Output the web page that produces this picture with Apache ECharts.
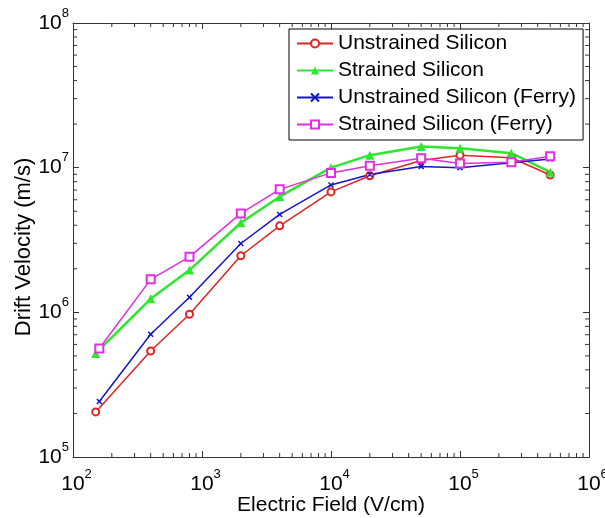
<!DOCTYPE html>
<html><head><meta charset="utf-8">
<script src="https://cdn.jsdelivr.net/npm/echarts@6/dist/echarts.min.js"></script>
<style>html,body{margin:0;padding:0;background:#fff}#c{width:605px;height:518px}</style>
</head><body><div id="c"></div>
<script>
const seriesNames = ['Unstrained Silicon', 'Strained Silicon', 'Unstrained Silicon (Ferry)', 'Strained Silicon (Ferry)'];
const fieldA = [150, 400, 800, 2000, 4000, 1e4, 2e4, 5e4, 1e5, 2.5e5, 5e5];
const fieldFerry = [160, 400, 800, 2000, 4000, 1e4, 2e4, 5e4, 1e5, 2.5e5, 5e5];
const unstrained = [2.05e5, 5.4e5, 9.7e5, 2.46e6, 3.96e6, 6.8e6, 8.8e6, 1.12e7, 1.22e7, 1.17e7, 8.9e6];
const strained = [5.2e5, 1.24e6, 1.96e6, 4.16e6, 6.3e6, 1.0e7, 1.22e7, 1.4e7, 1.36e7, 1.26e7, 9.3e6];
const unstrainedFerry = [2.42e5, 7.05e5, 1.27e6, 2.99e6, 4.75e6, 7.6e6, 8.97e6, 1.02e7, 1.0e7, 1.08e7, 1.15e7];
const strainedFerry = [5.62e5, 1.69e6, 2.42e6, 4.83e6, 7.08e6, 9.2e6, 1.03e7, 1.16e7, 1.07e7, 1.09e7, 1.2e7];
const xMin = 100, xMax = 1e6, yMin = 1e5, yMax = 1e8;
const xTitle = 'Electric Field (V/cm)';
const yTitle = 'Drift Velocity (m/s)';

const FONT = '"Liberation Sans", Arial, Helvetica, sans-serif';
const AX = '#333';

function minorList(lo, hi) {
  const out = [];
  for (let d = lo; d < hi; d *= 10) for (let m = 2; m <= 9; m++) out.push(m * d);
  return out;
}
const xMinor = minorList(xMin, xMax);
const yMinor = minorList(yMin, yMax);

function expLabel(v) {
  const e = Math.round(Math.log10(v));
  return '{b|10}{s|' + e + '}';
}
function richFor(padLeft) {
  return {
    b: {fontSize: 21, fontFamily: FONT, color: '#000', padding: [0, 0, 0, padLeft]},
    s: {fontSize: 13, fontFamily: FONT, color: '#000', padding: [0, 0, 20, 0]}
  };
}

function pairs(xs, ys) { return xs.map((x, i) => [x, ys[i]]); }

const chart = echarts.init(document.getElementById('c'), null, {renderer: 'canvas'});

const baseX = {
  type: 'log', logBase: 10, min: xMin, max: xMax, splitNumber: 4,
  axisLine: {show: true, lineStyle: {color: AX, width: 1}},
  axisTick: {show: true, inside: true, length: 6, lineStyle: {color: AX}},
  splitLine: {show: false}, minorTick: {show: false}
};
const baseY = {
  type: 'log', logBase: 10, min: yMin, max: yMax, splitNumber: 3,
  axisLine: {show: true, lineStyle: {color: AX, width: 1}},
  axisTick: {show: true, inside: true, length: 6, lineStyle: {color: AX}},
  splitLine: {show: false}, minorTick: {show: false}
};

const tickStyle = {stroke: AX, lineWidth: 1};

chart.setOption({
  animation: false,
  backgroundColor: '#fff',
  textStyle: {fontFamily: FONT},
  grid: {left: 73, right: 16, top: 23, bottom: 61, containLabel: false, outerBoundsMode: 'none'},
  legend: {
    data: seriesNames,
    orient: 'vertical', left: 289, top: 29,
    padding: [4, 7, 5, 7], itemGap: 6, itemWidth: 36, itemHeight: 10,
    backgroundColor: '#fff', borderColor: '#000', borderWidth: 1, borderRadius: 0,
    textStyle: {fontSize: 21, fontFamily: FONT, color: '#000', lineHeight: 21, padding: [0, 0, 0, 0]},
    selectedMode: false
  },
  xAxis: [
    Object.assign({}, baseX, {
      position: 'bottom',
      axisLabel: {show: true, margin: 11, formatter: expLabel, rich: richFor(7), showMinLabel: true, showMaxLabel: true},
      name: xTitle, nameLocation: 'middle', nameGap: 38, nameMoveOverlap: false,
      nameTextStyle: {fontSize: 21, fontFamily: FONT, color: '#000'}
    }),
    Object.assign({}, baseX, {position: 'top', axisLabel: {show: false}})
  ],
  yAxis: [
    Object.assign({}, baseY, {
      position: 'left',
      axisLabel: {show: true, margin: 4, formatter: expLabel, rich: richFor(0), showMinLabel: true, showMaxLabel: true},
      name: yTitle, nameLocation: 'middle', nameGap: 38, nameRotate: 90, nameMoveOverlap: false,
      nameTextStyle: {fontSize: 22, fontFamily: FONT, color: '#000', padding: [0, 14, 0, 0]}
    }),
    Object.assign({}, baseY, {position: 'right', axisLabel: {show: false}})
  ],
  series: [
    {
      name: seriesNames[0], type: 'line', data: pairs(fieldA, unstrained),
      symbol: 'emptyCircle', symbolSize: 7,
      lineStyle: {color: '#e02424', width: 1.5},
      itemStyle: {color: '#e02424', borderColor: '#e02424', borderWidth: 1.2}
    },
    {
      name: seriesNames[1], type: 'line', data: pairs(fieldA, strained),
      symbol: 'triangle', symbolSize: 9,
      lineStyle: {color: '#2ee62e', width: 2.5},
      itemStyle: {color: '#2ee62e'}
    },
    {
      name: seriesNames[2], type: 'line', data: pairs(fieldFerry, unstrainedFerry),
      symbol: 'path://M0,0L10,10M10,0L0,10', symbolSize: 5,
      lineStyle: {color: '#1414c8', width: 1.5},
      itemStyle: {color: '#1414c8', borderColor: '#1414c8', borderWidth: 1.5}
    },
    {
      name: seriesNames[3], type: 'line', data: pairs(fieldFerry, strainedFerry),
      symbol: 'emptyRect', symbolSize: 8,
      lineStyle: {color: '#e22ee2', width: 1.5},
      itemStyle: {color: '#e22ee2', borderColor: '#e22ee2', borderWidth: 1.3}
    },
    {
      type: 'custom', silent: true, clip: false, z: 1,
      data: xMinor.map(v => [v, yMin]),
      renderItem: function (params, api) {
        const v = api.value(0);
        const b = api.coord([v, yMin]);
        const t = api.coord([v, yMax]);
        return {type: 'group', children: [
          {type: 'line', shape: {x1: b[0], y1: b[1], x2: b[0], y2: b[1] - 4}, style: tickStyle},
          {type: 'line', shape: {x1: t[0], y1: t[1], x2: t[0], y2: t[1] + 4}, style: tickStyle}
        ]};
      }
    },
    {
      type: 'custom', silent: true, clip: false, z: 1,
      data: yMinor.map(v => [xMin, v]),
      renderItem: function (params, api) {
        const v = api.value(1);
        const l = api.coord([xMin, v]);
        const r = api.coord([xMax, v]);
        return {type: 'group', children: [
          {type: 'line', shape: {x1: l[0], y1: l[1], x2: l[0] + 4, y2: l[1]}, style: tickStyle},
          {type: 'line', shape: {x1: r[0], y1: r[1], x2: r[0] - 4, y2: r[1]}, style: tickStyle}
        ]};
      }
    }
  ]
});
</script></body></html>
